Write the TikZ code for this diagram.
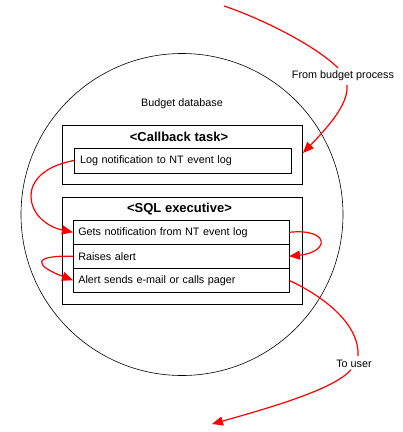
\documentclass[tikz,border=0pt]{standalone}
\usepackage{fontspec}
\setmainfont{Liberation Sans}
\usetikzlibrary{arrows.meta}
\begin{document}
\begin{tikzpicture}[x=1pt,y=-1pt,
  every node/.style={inner sep=0pt, outer sep=0pt},
  lbl/.style={font=\fontsize{10.8}{12}\selectfont},
  box/.style={draw=black, line width=1pt, rectangle},
  row/.style={draw=black, line width=1pt, rectangle, minimum width=216pt, minimum height=24pt, text width=205.4pt, inner xsep=5.3pt, align=left, lbl},
  boxtitle/.style={font=\bfseries\fontsize{13}{15}\selectfont},
  flow/.style={draw=red, line width=1.2pt, -{Triangle[length=11pt,width=9pt]}},
  flowplain/.style={draw=red, line width=1.2pt}
]
\useasboundingbox (0,0) rectangle (403,432);
\fill[white] (0,0) rectangle (403,432);

% database circle
\node[draw, circle, line width=0.6pt, minimum size=322pt] (db) at (182,214.5) {};
\node[lbl] (dbl) at (182,104) {Budget database};
\node[lbl] (from) at (343,76) {From budget process};
\node[lbl] (touser) at (354,364) {To user};

% callback task
\node[box, minimum width=239.5pt, minimum height=59pt] (cb) at (182.25,155) {};
\node[boxtitle] (cbt) at (179,137) {<Callback task>};
\node[box, minimum width=217pt, minimum height=25pt, text width=205pt, inner xsep=6pt, align=left, lbl] (log) at (182.5,160.5) {Log notification to NT event log};

% SQL executive
\node[box, minimum width=240pt, minimum height=107pt] (sql) at (182,250.5) {};
\node[boxtitle] (sqlt) at (179.5,209) {<SQL executive>};
\node[row] (gets) at (181,232.3) {Gets notification from NT event log};
\node[row] (raise) at (181,256.3) {Raises alert};
\node[row] (alert) at (181,280.3) {Alert sends e-mail or calls pager};

% connectors
\coordinate (src) at (224,6);
\coordinate (dst) at (212,424);
\draw[flowplain] (src) .. controls (260,18) and (315,45) .. ([shift={(-5,-3)}]from.north);
\draw[flow] ([shift={(4,4)}]from.south) .. controls (349,105) and (325,130) .. ([shift={(1,-2)}]cb.east);
\draw[flow] (log.west) .. controls (12,172) and (25,222) .. (gets.west);
\draw[flow] (gets.east) .. controls (330,228) and (330,252) .. (raise.east);
\draw[flow] (raise.west) .. controls (33,255) and (33,265) .. (alert.west);
\draw[flowplain] (alert.east) .. controls (325,297) and (360,325) .. ([shift={(4,-4)}]touser.north);
\draw[flow] ([shift={(-3,2)}]touser.south) .. controls (335,388) and (280,405) .. (dst);
\end{tikzpicture}
\end{document}
